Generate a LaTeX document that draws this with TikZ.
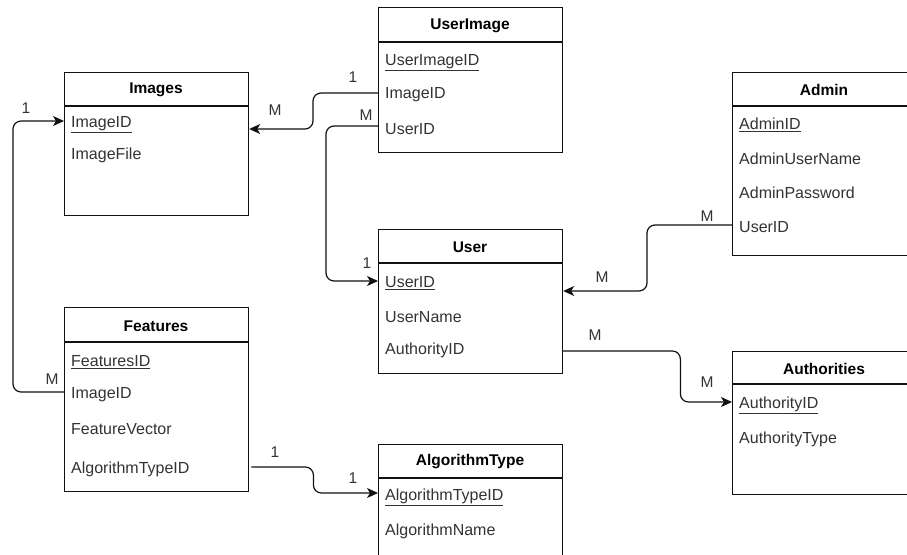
\documentclass[tikz,border=0pt]{standalone}
\usepackage{fontspec}
\setmainfont{Liberation Sans}
\usetikzlibrary{arrows.meta}
\definecolor{ink}{HTML}{333333}
\definecolor{edge}{HTML}{111111}
\tikzset{
  entity/.style={draw=edge, line width=1.2pt, fill=white, minimum width=184pt,
    anchor=north west, inner sep=0pt},
  sep/.style={draw=edge, line width=1.2pt},
  field/.style={anchor=west, text width=170pt, inner xsep=7pt, inner ysep=0pt,
    align=left, text=ink, font=\fontsize{16}{19}\selectfont},
  title/.style={font=\bfseries\fontsize{15.5}{18}\selectfont, text=black},
  link/.style={draw=edge, line width=1.2pt, rounded corners=8pt,
    -{Stealth[length=11pt,width=10pt,inset=3pt]}},
  card/.style={text=ink, font=\fontsize{15.5}{18}\selectfont, inner sep=0pt},
}
\newcommand{\keyfield}[1]{\underline{#1}}
\begin{document}
\begin{tikzpicture}[x=1pt,y=-1pt]
\useasboundingbox (0,0) rectangle (907,554);
\fill[white] (0,0) rectangle (907,554);
\clip (0,0) rectangle (907,554);

% ---------- Images ----------
\node[entity, minimum height=143pt] (images) at (64,72) {};
\draw[sep] (64,106) -- (248,106);
\node[title] (imagesT) at (156,90) {Images};
\node[field] (iImg) at (64,125) {\keyfield{ImageID}};
\node[field] (iFile) at (64,155) {ImageFile};

% ---------- UserImage ----------
\node[entity, minimum height=145pt] (userimage) at (378,7) {};
\draw[sep] (378,42) -- (562,42);
\node[title] (userimageT) at (470,26) {UserImage};
\node[field] (uiId) at (378,63) {\keyfield{UserImageID}};
\node[field] (uiImg) at (378,95) {ImageID};
\node[field] (uiUid) at (378,129) {UserID};

% ---------- Admin ----------
\node[entity, minimum height=183pt] (admin) at (732,72) {};
\draw[sep] (732,106) -- (916,106);
\node[title] (adminT) at (824,90) {Admin};
\node[field] (adId) at (732,125) {\keyfield{AdminID}};
\node[field] (adName) at (732,159) {AdminUserName};
\node[field] (adPass) at (732,193) {AdminPassword};
\node[field] (adUid) at (732,227) {UserID};

% ---------- User ----------
\node[entity, minimum height=144pt] (user) at (378,229) {};
\draw[sep] (378,263) -- (562,263);
\node[title] (userT) at (470,247) {User};
\node[field] (uUid) at (378,283) {\keyfield{UserID}};
\node[field] (uName) at (378,317) {UserName};
\node[field] (uAid) at (378,350) {AuthorityID};

% ---------- Features ----------
\node[entity, minimum height=184pt] (features) at (64,307) {};
\draw[sep] (64,342) -- (248,342);
\node[title] (featuresT) at (156,326) {Features};
\node[field] (fId) at (64,362) {\keyfield{FeaturesID}};
\node[field] (fImg) at (64,395) {ImageID};
\node[field] (fVec) at (64,429) {FeatureVector};
\node[field] (fAlg) at (64,469) {AlgorithmTypeID};

% ---------- Authorities ----------
\node[entity, minimum height=143pt] (authorities) at (732,351) {};
\draw[sep] (732,384) -- (916,384);
\node[title] (authoritiesT) at (824,369) {Authorities};
\node[field] (auAid) at (732,405) {\keyfield{AuthorityID}};
\node[field] (auType) at (732,439) {AuthorityType};

% ---------- AlgorithmType ----------
\node[entity, minimum height=160pt] (algtype) at (378,444) {};
\draw[sep] (378,478) -- (562,478);
\node[title] (algtypeT) at (470,462) {AlgorithmType};
\node[field] (atAid) at (378,497) {\keyfield{AlgorithmTypeID}};
\node[field] (atName) at (378,531) {AlgorithmName};

% ---------- relationships ----------
\draw[link] ([yshift=2pt]uiImg.west) -- ++(-65,0) |- ([yshift=-57pt]images.north east);
\draw[link] ([yshift=3pt]uiUid.west) -- ++(-52,0) |- ([yshift=2pt]uUid.west);
\draw[link] ([yshift=2pt]adUid.west) -- ++(-85,0) |- ([yshift=-62pt]user.north east);
\draw[link] ([yshift=-1pt]uAid.east) -- ++(118,0) |- ([yshift=3pt]auAid.west);
\draw[link] ([yshift=3pt]fImg.west) -- ++(-51,0) |- ([yshift=4pt]iImg.west);
\draw[link] ([xshift=3pt,yshift=2pt]fAlg.east) -- ++(62,0) |- ([yshift=4pt]atAid.west);

% ---------- cardinalities ----------
\node[card] (c1) at (26,108) {1};
\node[card] (c2) at (52,379) {M};
\node[card] (c3) at (275,110) {M};
\node[card] (c4) at (353,77) {1};
\node[card] (c5) at (366,115) {M};
\node[card] (c6) at (367,263) {1};
\node[card] (c7) at (707,216) {M};
\node[card] (c8) at (602,277) {M};
\node[card] (c9) at (595,335) {M};
\node[card] (c10) at (707,382) {M};
\node[card] (c11) at (275,452) {1};
\node[card] (c12) at (353,478) {1};
\end{tikzpicture}
\end{document}
